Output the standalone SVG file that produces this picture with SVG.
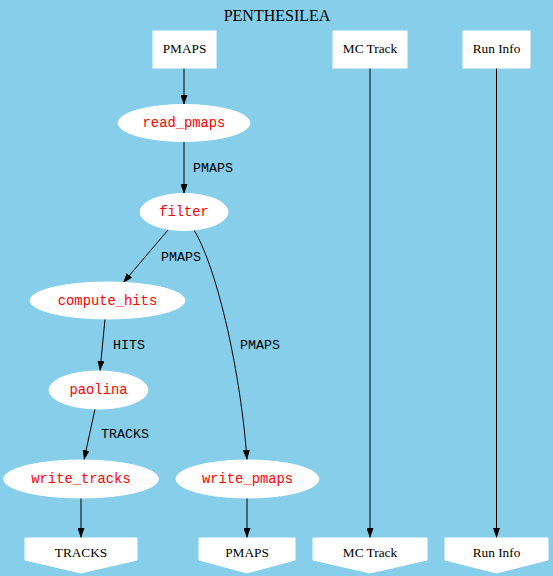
<svg xmlns="http://www.w3.org/2000/svg" width="553" height="576" viewBox="0 0 553 576">
<style>
.box{fill:#fff;stroke:#fff}
.ell{fill:#fff;stroke:#fff}
.serif{font-family:"Liberation Serif","Times New Roman",serif;font-size:13.3px;fill:#000;text-anchor:middle}
.mono{font-family:"Liberation Mono","Courier New",monospace;font-size:13.8px;fill:#ff0000;text-anchor:middle}
.elab{font-family:"Liberation Mono","Courier New",monospace;font-size:13.3px;fill:#000}
.edge{stroke:#000;stroke-width:1;fill:none;marker-end:url(#arr)}
</style>
<defs>
<marker id="arr" markerUnits="userSpaceOnUse" markerWidth="10" markerHeight="7" refX="10" refY="3.5" orient="auto">
<path d="M0,0 L10,3.5 L0,7 z" fill="#000"/>
</marker>
</defs>
<rect width="553" height="576" fill="#87ceeb"/>
<text x="277" y="21" class="serif" style="font-size:16px">PENTHESILEA</text>
<g id="connectors">
<path class="edge" d="M184,68 L184,105"/>
<path class="edge" d="M184,141 L184,194"/>
<path class="edge" d="M168,230 L123,283"/>
<path class="edge" d="M105,319 L100,371"/>
<path class="edge" d="M95,409 L84,460"/>
<path class="edge" d="M81,498 L81,538"/>
<path class="edge" d="M194,230 C218,270 241,375 247,460"/>
<path class="edge" d="M247,498 L247,538"/>
<path class="edge" d="M370,68 L370,538"/>
<path class="edge" d="M496.5,68 L496.5,538"/>
<text class="elab" x="193" y="172">PMAPS</text>
<text class="elab" x="161" y="261">PMAPS</text>
<text class="elab" x="113" y="349">HITS</text>
<text class="elab" x="101" y="438">TRACKS</text>
<text class="elab" x="240" y="349">PMAPS</text>
</g>
<g id="in_pmaps"><rect class="box" x="153" y="31" width="63" height="37"/><text class="serif" x="184.5" y="53">PMAPS</text></g>
<g id="in_mctrack"><rect class="box" x="333" y="31" width="74" height="37"/><text class="serif" x="370" y="53">MC Track</text></g>
<g id="in_runinfo"><rect class="box" x="463" y="31" width="67" height="37"/><text class="serif" x="496.5" y="53">Run Info</text></g>
<g id="read_pmaps"><ellipse class="ell" cx="184" cy="123" rx="66" ry="18.5"/><text class="mono" x="184" y="127">read_pmaps</text></g>
<g id="filter"><ellipse class="ell" cx="184" cy="212" rx="44" ry="18.5"/><text class="mono" x="184" y="216">filter</text></g>
<g id="compute_hits"><ellipse class="ell" cx="107.5" cy="300.5" rx="77.5" ry="18.5"/><text class="mono" x="107.5" y="304.5">compute_hits</text></g>
<g id="paolina"><ellipse class="ell" cx="98.5" cy="390" rx="49.5" ry="19"/><text class="mono" x="98.5" y="394">paolina</text></g>
<g id="write_tracks"><ellipse class="ell" cx="81" cy="479" rx="77.5" ry="19"/><text class="mono" x="81" y="483">write_tracks</text></g>
<g id="write_pmaps"><ellipse class="ell" cx="247.5" cy="479" rx="71.5" ry="19"/><text class="mono" x="247.5" y="483">write_pmaps</text></g>
<g id="out_tracks"><polygon class="box" points="25,538 137,538 137,560 81,573 25,560"/><text class="serif" x="81" y="557">TRACKS</text></g>
<g id="out_pmaps"><polygon class="box" points="199,538 295,538 295,560 247,573 199,560"/><text class="serif" x="247" y="557">PMAPS</text></g>
<g id="out_mctrack"><polygon class="box" points="313,538 427,538 427,560 370,573 313,560"/><text class="serif" x="370" y="557">MC Track</text></g>
<g id="out_runinfo"><polygon class="box" points="445,538 548,538 548,560 496.5,573 445,560"/><text class="serif" x="496.5" y="557">Run Info</text></g>
</svg>
